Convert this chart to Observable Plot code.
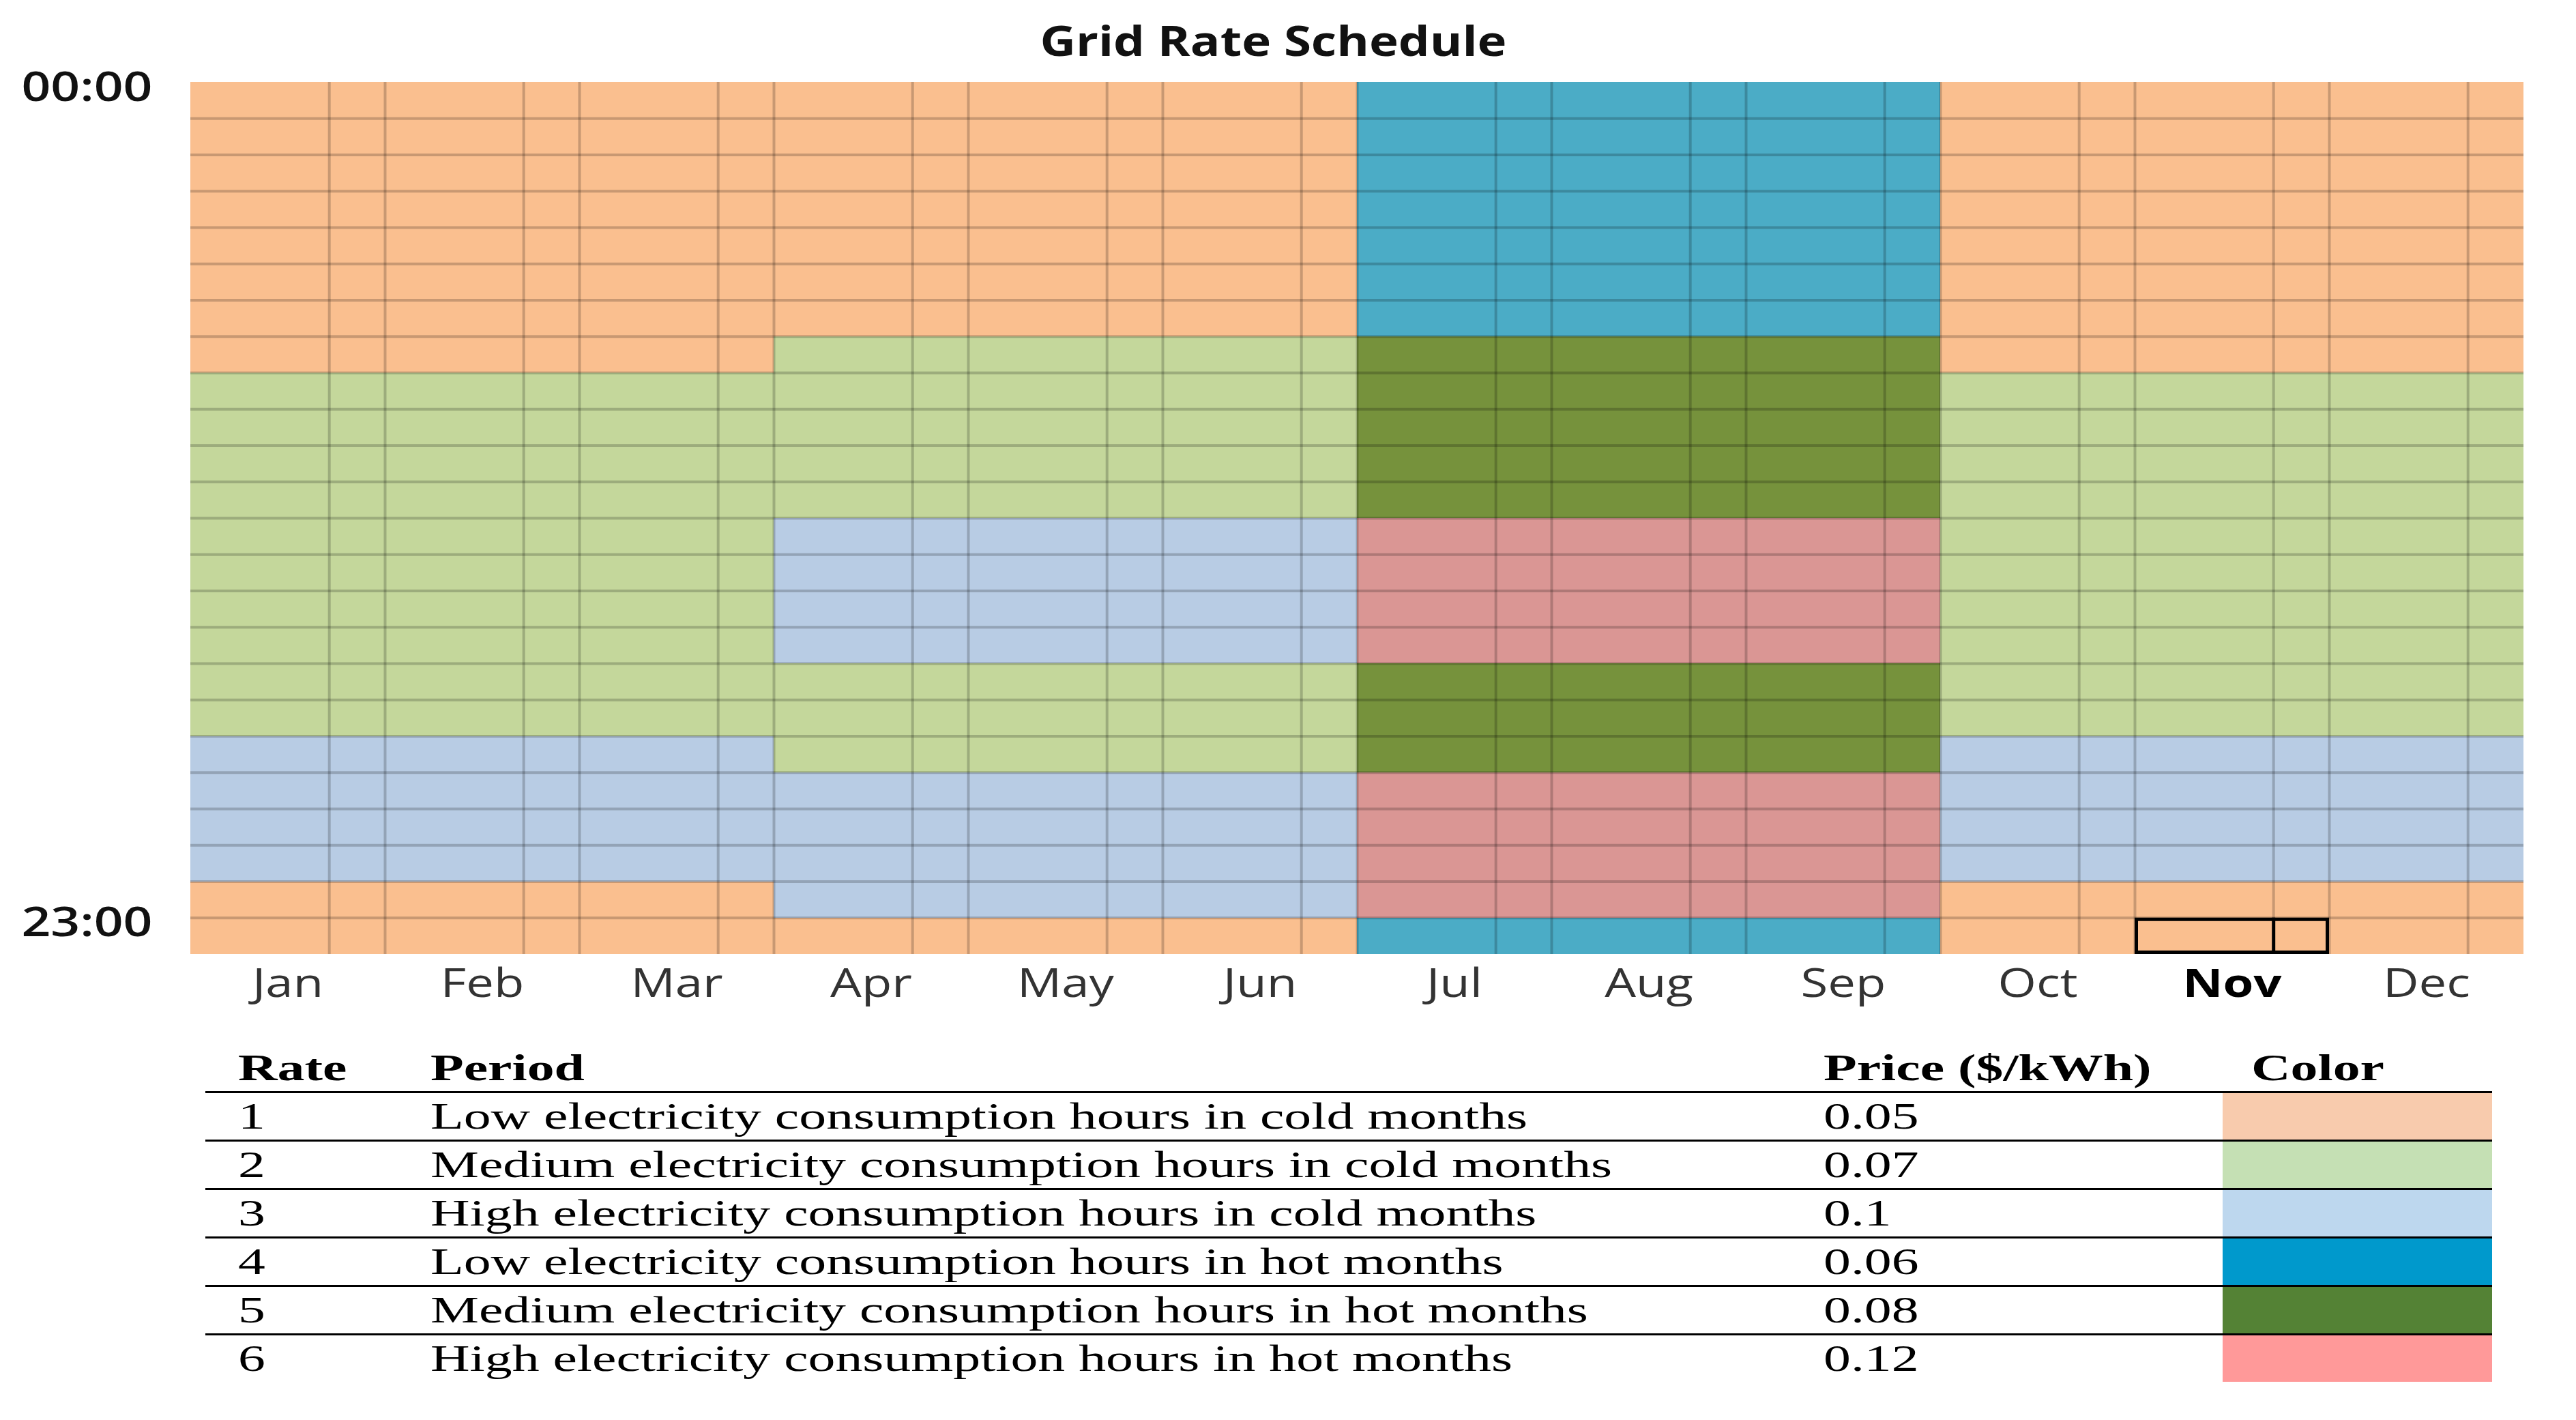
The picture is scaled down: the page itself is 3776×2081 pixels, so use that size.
<!DOCTYPE html>
<html>
<head>
<meta charset="utf-8">
<script src="https://cdn.jsdelivr.net/npm/d3@7"></script>
<script src="https://cdn.jsdelivr.net/npm/@observablehq/plot@0.6"></script>
<style>
  html, body { margin: 0; padding: 0; background: #fff; }
  #page { position: relative; width: 3776px; height: 2081px; overflow: hidden; background: #fff; }
  #title { height: 90px; box-sizing: border-box; padding-top: 28px; line-height: 61px; text-align: center;
           font-family: "Open Sans", sans-serif; font-weight: 700; font-size: 61px; color: #111; white-space: nowrap; }
  #title span { display: inline-block; transform: translateX(-22px) scaleX(1.19); }
  #chart svg { display: block; }
  #legend { position: absolute; left: 301px; top: 1531px; border-collapse: collapse;
            font-family: "Liberation Serif", "Times New Roman", serif; font-size: 55px; color: #000; }
  #legend th, #legend td { padding: 0; height: 68px; line-height: 68px; text-align: left; vertical-align: bottom; white-space: nowrap; }
  #legend th { font-weight: 700; }
  #legend thead tr { border-bottom: 3px solid #000; }
  #legend tbody tr.lined { border-bottom: 3px solid #000; }
  #legend .s { display: inline-block; transform: scaleX(1.45); transform-origin: 0 50%; }
  #legend .c1 { width: 282px; padding-left: 48px; }
  #legend .c2 { width: 2042px; }
  #legend .c3 { width: 585px; }
  #legend .c4 { width: 353px; padding-left: 42px; }
</style>
</head>
<body>
<div id="page">
  <div id="title"><span>Grid Rate Schedule</span></div>
  <div id="chart"></div>
  <table id="legend"></table>
</div>
<script>
// ---- data ----
const months = ["Jan","Feb","Mar","Apr","May","Jun","Jul","Aug","Sep","Oct","Nov","Dec"];
// season of each month
const monthSeason = ["cold","cold","cold","mild","mild","mild","hot","hot","hot","cold","cold","cold"];
// rate for each hour 0..23
const coldSchedule = [1,1,1,1,1,1,1,1, 2,2,2,2,2,2,2,2,2,2, 3,3,3,3, 1,1];
const mildSchedule = [1,1,1,1,1,1,1, 2,2,2,2,2, 3,3,3,3, 2,2,2, 3,3,3,3, 1];
const hotSchedule  = [4,4,4,4,4,4,4, 5,5,5,5,5, 6,6,6,6, 5,5,5, 6,6,6,6, 4];
const schedules = {cold: coldSchedule, mild: mildSchedule, hot: hotSchedule};

const hourLabels = [{hour: 0, label: "00:00"}, {hour: 23, label: "23:00"}];
const selectedCell = {month: "Nov", hour: 23};
const subColumnSplit = 0.713; // each month column is split into two sheet columns

const rates = [1, 2, 3, 4, 5, 6];
const periods = [
  "Low electricity consumption hours in cold months",
  "Medium electricity consumption hours in cold months",
  "High electricity consumption hours in cold months",
  "Low electricity consumption hours in hot months",
  "Medium electricity consumption hours in hot months",
  "High electricity consumption hours in hot months"
];
const prices = ["0.05", "0.07", "0.1", "0.06", "0.08", "0.12"];
const heatColors = ["#FABF8F", "#C4D79B", "#B8CCE4", "#4BACC6", "#76923C", "#DA9694"];
const legendColors = ["#F8CBAD", "#C5E0B4", "#BDD7EE", "#0099CC", "#548235", "#FF9999"];
const tableHeader = ["Rate", "Period", "Price ($/kWh)", "Color"];

// ---- derived table for the heatmap ----
const cells = months.flatMap((month, m) =>
  schedules[monthSeason[m]].map((rate, hour) => ({month, hour, rate})));
const mi = d => months.indexOf(d.month);
const gridStyle = {stroke: "#000", strokeOpacity: 0.2, strokeWidth: 4};

const chart = Plot.plot({
  width: 3776,
  height: 1440,
  marginLeft: 279,
  marginRight: 77,
  marginTop: 30,
  marginBottom: 132,
  x: {domain: [0, 12], axis: null},
  y: {domain: [24, 0], axis: null},
  color: {type: "ordinal", domain: rates, range: heatColors},
  style: {fontFamily: "'Open Sans', sans-serif", background: "#fff", overflow: "visible"},
  marks: [
    Plot.rect(cells, {x1: mi, x2: d => mi(d) + 1, y1: "hour", y2: d => d.hour + 1, fill: "rate", shapeRendering: "crispEdges"}),
    Plot.ruleY(d3.range(1, 24), gridStyle),
    Plot.ruleX(d3.range(1, 12), gridStyle),
    Plot.ruleX(months.map((_, i) => i + subColumnSplit), gridStyle),
    Plot.rect([selectedCell], {x1: mi, x2: d => mi(d) + 1, y1: "hour", y2: d => d.hour + 1,
      fill: "none", stroke: "#000", strokeWidth: 5, inset: 2.5}),
    Plot.ruleX([selectedCell], {x: d => mi(d) + subColumnSplit, y1: "hour", y2: d => d.hour + 1,
      stroke: "#000", strokeWidth: 5}),
    Plot.text(months.filter(m => m !== selectedCell.month), {
      x: d => months.indexOf(d) + 0.5, text: d => d, frameAnchor: "bottom", lineAnchor: "top",
      dy: 21, fontSize: 58, fill: "#333"}),
    Plot.text([selectedCell.month], {
      x: d => months.indexOf(d) + 0.5, text: d => d, frameAnchor: "bottom", lineAnchor: "top",
      dy: 21, fontSize: 58, fontWeight: 700, fill: "#000"}),
    Plot.text(hourLabels, {y: "hour", text: "label", frameAnchor: "left", textAnchor: "end",
      dx: -56, dy: 8, fontSize: 60, fontWeight: 600, fill: "#111"})
  ]
});
document.getElementById("chart").appendChild(chart);

// the original figure's lettering is horizontally stretched
chart.querySelectorAll("text").forEach(t => {
  const L = t.getComputedTextLength();
  if (L > 0) {
    t.setAttribute("textLength", (L * 1.25).toFixed(1));
    t.setAttribute("lengthAdjust", "spacingAndGlyphs");
  }
});

// ---- legend table ----
const table = d3.select("#legend");
const head = table.append("thead").append("tr");
tableHeader.forEach((h, i) => head.append("th").attr("class", "c" + (i + 1)).append("span").attr("class", "s").text(h));
const body = table.append("tbody");
rates.forEach((r, i) => {
  const tr = body.append("tr").attr("class", i < rates.length - 1 ? "lined" : null);
  tr.append("td").attr("class", "c1").append("span").attr("class", "s").text(r);
  tr.append("td").attr("class", "c2").append("span").attr("class", "s").text(periods[i]);
  tr.append("td").attr("class", "c3").append("span").attr("class", "s").text(prices[i]);
  tr.append("td").attr("class", "c4").style("background", legendColors[i]).style("padding-left", "0").style("width", "395px");
});
</script>
</body>
</html>
